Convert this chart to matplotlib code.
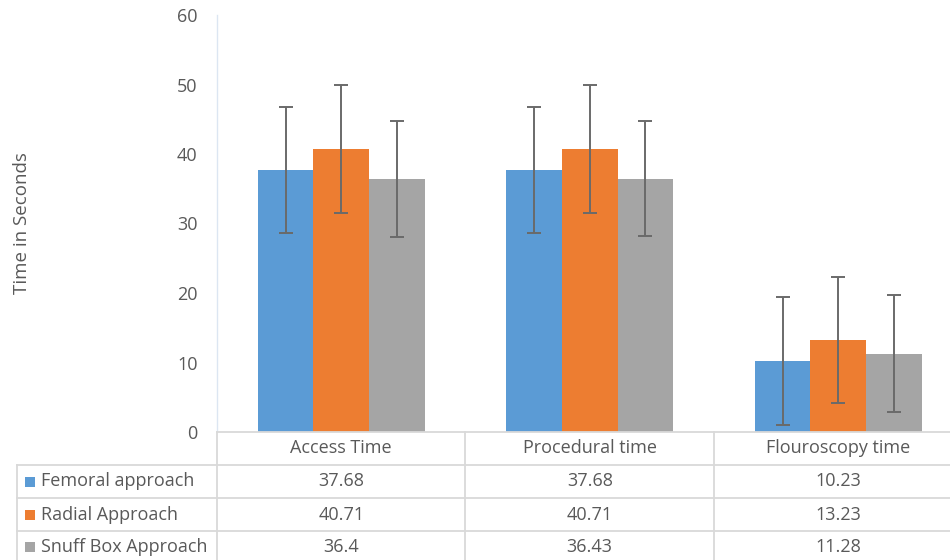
import numpy as np
import matplotlib
matplotlib.use("Agg")
import matplotlib.pyplot as plt
from matplotlib.transforms import blended_transform_factory
from matplotlib.lines import Line2D
from matplotlib.patches import Rectangle

plt.rcParams['font.family'] = ['Open Sans', 'DejaVu Sans']

categories = ["Access Time", "Procedural time", "Flouroscopy time"]
series = ["Femoral approach", "Radial Approach", "Snuff Box Approach"]
femoral = [37.68, 37.68, 10.23]
radial = [40.71, 40.71, 13.23]
snuff = [36.4, 36.43, 11.28]
femoral_err = [9.1, 9.1, 9.2]
radial_err = [9.2, 9.2, 9.1]
snuff_err = [8.3, 8.3, 8.4]
table_text = [["37.68", "37.68", "10.23"],
              ["40.71", "40.71", "13.23"],
              ["36.4", "36.43", "11.28"]]
colors = ["#5B9BD5", "#ED7D31", "#A5A5A5"]

W, H = 950, 560
fig = plt.figure(figsize=(9.5, 5.6), dpi=100)

# plot area in pixels
left, right, top, bottom = 217, 950, 15, 432
ax = fig.add_axes([left / W, 1 - bottom / H, (right - left) / W, (bottom - top) / H])

x = np.arange(len(categories))
bw = 0.224
vals = [femoral, radial, snuff]
errs = [femoral_err, radial_err, snuff_err]
for i in range(3):
    ax.bar(x + (i - 1) * bw, vals[i], bw, color=colors[i], zorder=2)
    ax.errorbar(x + (i - 1) * bw, vals[i], yerr=errs[i], fmt='none',
                ecolor="#6a6a6a", elinewidth=1.4, capsize=5, capthick=1.4, zorder=3)

ax.set_xlim(-0.5, 2.45)
ax.set_ylim(0, 60)
ax.set_yticks(range(0, 61, 10))
ax.set_xticks([])
ax.tick_params(axis='y', length=0, pad=14, labelsize=13, labelcolor="#595959")
for s in ['top', 'right', 'bottom']:
    ax.spines[s].set_visible(False)
ax.spines['left'].set_color("#dce6f2")
ax.spines['left'].set_linewidth(1)

fig.text(22 / W, 1 - 223 / H, "Time in Seconds", rotation=90, va='center', ha='center',
         fontsize=13.5, color="#595959")

# data table below the plot
grid = "#d9d9d9"
def fy(y):
    return 1 - y / H

def hline(x0, x1, y):
    fig.add_artist(Line2D([x0 / W, x1 / W], [fy(y), fy(y)], color=grid, lw=1.3))

def vline(xp, y0, y1):
    fig.add_artist(Line2D([xp / W, xp / W], [fy(y0), fy(y1)], color=grid, lw=1.3))

hline(left, W, 432)
for y in [465, 498, 531]:
    hline(17, W, y)
vline(17, 465, H)
for xp in [217, 465, 714]:
    vline(xp, 432, H)

trans = blended_transform_factory(ax.transData, fig.transFigure)
fs = 13
for j, c in enumerate(categories):
    ax.text(x[j], fy(448), c, transform=trans, ha='center', va='center',
            fontsize=fs, color="#595959", clip_on=False)

row_y = [481.5, 514.5, 547]
for i, name in enumerate(series):
    fig.add_artist(Rectangle((25 / W, fy(row_y[i] + 5)), 10 / W, 10 / H,
                             facecolor=colors[i], edgecolor='none'))
    fig.text(41 / W, fy(row_y[i]), name, ha='left', va='center',
             fontsize=fs, color="#595959")
    for j in range(3):
        ax.text(x[j], fy(row_y[i]), table_text[i][j], transform=trans,
                ha='center', va='center', fontsize=fs, color="#595959", clip_on=False)

fig.savefig("out.png", dpi=100)
